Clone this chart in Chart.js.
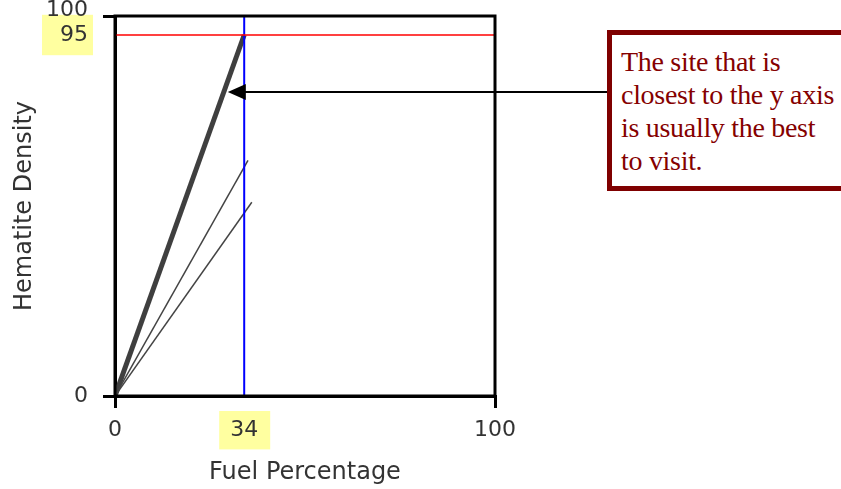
<!DOCTYPE html>
<html lang="en">
<head>
  <meta charset="UTF-8" />
  <title>Hematite Density vs Fuel Percentage</title>
  <script src="https://cdn.jsdelivr.net/npm/chart.js"></script>
  <style>
    body { margin: 0; background: #fff; overflow: hidden; }
    #wrap { position: relative; width: 841px; height: 489px; }
    #note {
      position: absolute; left: 607px; top: 30px; width: 260px; height: 161px;
      box-sizing: border-box; border: 5px solid #7f0000; background: #fff;
      color: #850000; font-family: "Liberation Serif", serif; font-size: 28px;
      line-height: 33px; padding: 10px 0 0 9px; letter-spacing: -0.3px;
    }
  </style>
</head>
<body>
<div id="wrap">
  <canvas id="chart" width="841" height="489"></canvas>
  <div id="note">The site that is<br>closest to the y axis<br>is usually the best<br>to visit.</div>
</div>
<script>
  // data
  const siteBest = [{x: 0, y: 0}, {x: 34, y: 95}];
  const siteTwo = [{x: 0, y: 0}, {x: 35, y: 62}];
  const siteThree = [{x: 0, y: 0}, {x: 36, y: 51}];
  const targetDensity = [{x: 0, y: 95}, {x: 100, y: 95}];
  const targetFuel = [{x: 34, y: 0}, {x: 34, y: 100}];
  const xTicks = [0, 34, 100];
  const yTicks = [0, 95, 100];
  const highlightX = 34, highlightY = 95;
  const yTopLabelLift = 1.6; // the "100" label sits a bit above the top tick

  const tickFont = { family: "'DejaVu Sans', Verdana, sans-serif", size: 22 };
  const titleFont = { family: "'DejaVu Sans', Verdana, sans-serif", size: 24 };
  const clear = 'rgba(0,0,0,0)';

  // frame + arrow pointing at the best site
  const extras = {
    id: 'extras',
    afterDraw(chart) {
      const c = chart.ctx, a = chart.chartArea;
      const xs = chart.scales.x, ys = chart.scales.y;
      c.save();
      c.strokeStyle = '#000';
      c.lineWidth = 3;
      c.strokeRect(a.left, a.top, a.right - a.left, a.bottom - a.top);
      // arrow from note box to the thick line
      const yv = 80;
      const tipX = xs.getPixelForValue(yv * 34 / 95) + 4;
      const tipY = ys.getPixelForValue(yv);
      c.lineWidth = 2;
      c.beginPath();
      c.moveTo(607, tipY);
      c.lineTo(tipX + 16, tipY);
      c.stroke();
      c.fillStyle = '#000';
      c.beginPath();
      c.moveTo(tipX, tipY);
      c.lineTo(tipX + 18, tipY - 8);
      c.lineTo(tipX + 18, tipY + 8);
      c.closePath();
      c.fill();
      c.restore();
    }
  };

  new Chart(document.getElementById('chart'), {
    type: 'scatter',
    data: {
      datasets: [
        { data: targetDensity, borderColor: '#ff0000', borderWidth: 1.5 },
        { data: targetFuel, borderColor: '#0000ff', borderWidth: 2 },
        { data: siteThree, borderColor: '#444', borderWidth: 1.5 },
        { data: siteTwo, borderColor: '#444', borderWidth: 1.5 },
        { data: siteBest, borderColor: '#3f3f3f', borderWidth: 5 }
      ].map(d => Object.assign(d, { showLine: true, pointRadius: 0, fill: false }))
    },
    options: {
      responsive: false,
      animation: false,
      layout: { padding: { left: 0, top: 16, right: 346, bottom: 0 } },
      plugins: { legend: { display: false }, tooltip: { enabled: false } },
      scales: {
        x: {
          type: 'linear', min: 0, max: 100,
          afterBuildTicks: s => { s.ticks = xTicks.map(v => ({ value: v })); },
          afterFit: s => { s.height = 93; },
          grid: {
            drawOnChartArea: false, tickLength: 12, lineWidth: 3,
            color: ctx => (ctx.tick && ctx.tick.value === highlightX) ? clear : '#000'
          },
          border: { display: true, color: '#000', width: 3 },
          ticks: {
            color: '#333', font: tickFont, padding: 9, maxRotation: 0,
            showLabelBackdrop: true,
            backdropColor: ctx => ctx.tick && ctx.tick.value === highlightX ? '#ffffa0' : clear,
            backdropPadding: { top: 6, bottom: 6, left: 11, right: 12 }
          },
          title: { display: true, text: 'Fuel Percentage', color: '#333', font: titleFont, padding: { top: 5, bottom: 2 } }
        },
        y: {
          type: 'linear', min: 0, max: 100,
          afterBuildTicks: s => {
            const top = yTicks[yTicks.length - 1];
            s.ticks = yTicks.map(v => ({ value: v, label: v === top ? '' : String(v) }));
            s.ticks.push({ value: top + yTopLabelLift, label: String(top) });
          },
          afterTickToLabelConversion: s => { s.ticks.forEach(t => { t.label = t.label === undefined ? String(t.value) : t.label; }); },
          afterFit: s => { s.width = 115; s.paddingTop = 0; s.paddingBottom = 0; },
          grid: {
            drawOnChartArea: false, tickLength: 12, lineWidth: 3,
            color: ctx => (ctx.tick && !yTicks.includes(ctx.tick.value)) || (ctx.tick && ctx.tick.value === highlightY) ? clear : '#000'
          },
          border: { display: true, color: '#000', width: 3 },
          ticks: {
            color: '#333', font: tickFont, padding: 15,
            callback: function (value, index, ticks) { return ticks[index].label; },
            showLabelBackdrop: true,
            backdropColor: ctx => ctx.tick && ctx.tick.value === highlightY ? '#ffffa0' : clear,
            backdropPadding: { top: 7, bottom: 7, left: 18, right: 5 }
          },
          title: { display: true, text: 'Hematite Density', color: '#333', font: titleFont, padding: { top: 10, bottom: 0 } }
        }
      }
    },
    plugins: [extras]
  });
</script>
</body>
</html>
